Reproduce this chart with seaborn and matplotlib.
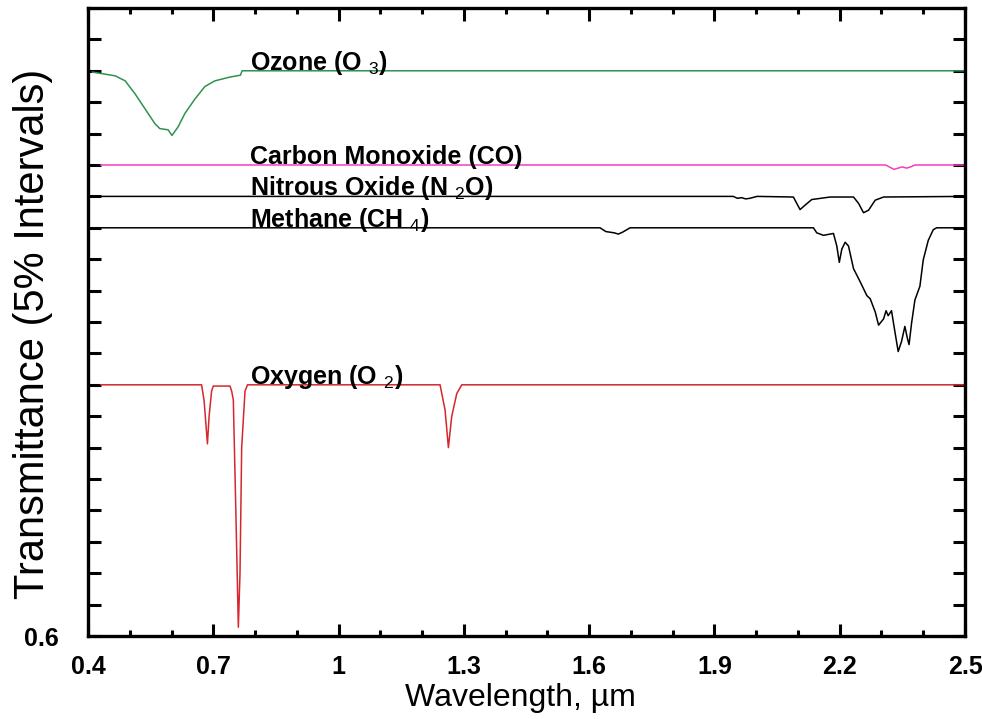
import matplotlib
matplotlib.use("Agg")
import matplotlib.pyplot as plt
import matplotlib.ticker as mticker
import pandas as pd
import seaborn as sns

# wavelength (um) / transmittance, curves offset by 5% steps
ozone_x = [0.41, 0.465, 0.489, 0.513, 0.536, 0.560, 0.572, 0.592, 0.601, 0.616,
           0.632, 0.656, 0.680, 0.704, 0.740, 0.765, 0.769, 2.5]
ozone_y = [1.498, 1.492, 1.484, 1.463, 1.440, 1.416, 1.408, 1.406, 1.397, 1.411,
           1.432, 1.455, 1.475, 1.484, 1.490, 1.493, 1.5, 1.5]

co_x = [0.43, 2.31, 2.33, 2.35, 2.36, 2.37, 2.38, 2.5]
co_y = [1.35, 1.35, 1.343, 1.347, 1.345, 1.347, 1.35, 1.35]

n2o_x = [0.4, 1.945, 1.955, 1.965, 1.975, 1.985, 2.002, 2.089, 2.105, 2.117,
         2.133, 2.177, 2.233, 2.245, 2.257, 2.269, 2.285, 2.305, 2.5]
n2o_y = [1.3, 1.3, 1.297, 1.298, 1.296, 1.297, 1.3, 1.299, 1.279, 1.286,
         1.295, 1.299, 1.299, 1.289, 1.274, 1.278, 1.294, 1.299, 1.3]

ch4_x = [0.4, 1.626, 1.64, 1.66, 1.67, 1.68, 1.698, 2.137, 2.145, 2.161, 2.185,
         2.193, 2.199, 2.205, 2.213, 2.221, 2.233, 2.249, 2.265, 2.273, 2.285,
         2.293, 2.305, 2.311, 2.316, 2.324, 2.332, 2.340, 2.348, 2.356, 2.362,
         2.366, 2.372, 2.380, 2.392, 2.400, 2.412, 2.424, 2.432, 2.5]
ch4_y = [1.25, 1.25, 1.244, 1.242, 1.240, 1.243, 1.25, 1.25, 1.242, 1.238, 1.241,
         1.221, 1.195, 1.216, 1.227, 1.221, 1.185, 1.164, 1.142, 1.137, 1.116,
         1.095, 1.105, 1.118, 1.110, 1.118, 1.085, 1.053, 1.069, 1.093, 1.074,
         1.064, 1.098, 1.135, 1.157, 1.199, 1.230, 1.247, 1.25, 1.25]

o2_x = [0.43, 0.672, 0.678, 0.686, 0.690, 0.696, 0.700, 0.740, 0.744, 0.748,
        0.754, 0.760, 0.764, 0.768, 0.776, 0.782, 1.243, 1.255, 1.263, 1.271,
        1.283, 1.295, 2.5]
o2_y = [1.0, 1.0, 0.975, 0.906, 0.95, 0.99, 0.998, 0.998, 0.99, 0.976,
        0.80, 0.614, 0.70, 0.90, 0.99, 1.0, 1.0, 0.96, 0.90, 0.95,
        0.986, 1.0, 1.0]

x_ticks = [0.4, 0.7, 1.0, 1.3, 1.6, 1.9, 2.2, 2.5]

series = [
    (ozone_x, ozone_y, "#2f9150", r"Ozone (O$\ _{3}$)", 1.5),
    (co_x, co_y, "#f23fbf", "Carbon Monoxide (CO)", 1.35),
    (n2o_x, n2o_y, "black", r"Nitrous Oxide (N$\ _{2}$O)", 1.3),
    (ch4_x, ch4_y, "black", r"Methane (CH$\ _{4}$)", 1.25),
    (o2_x, o2_y, "#d6262e", r"Oxygen (O$\ _{2}$)", 1.0),
]

sns.set_style("ticks")
plt.rcParams["font.family"] = ["Liberation Sans", "DejaVu Sans"]
plt.rcParams["mathtext.fontset"] = "custom"
plt.rcParams["mathtext.rm"] = "Liberation Sans"
plt.rcParams["mathtext.it"] = "Liberation Sans"
plt.rcParams["text.color"] = "black"
plt.rcParams["axes.labelcolor"] = "black"

fig = plt.figure(figsize=(9.82, 7.19), dpi=100)
ax = fig.add_axes([0.0896, 0.1154, 0.8931, 0.8735])

for xs, ys, color, label, base in series:
    df = pd.DataFrame({"wl": xs, "t": ys})
    sns.lineplot(data=df, x="wl", y="t", color=color, linewidth=1.1, ax=ax,
                 estimator=None, sort=False)
    ax.text(0.788, base + 0.0015, label, fontsize=18, fontweight="bold",
            ha="left", va="baseline", color="black")

ax.set_xlim(0.4, 2.5)
ax.set_ylim(0.6, 1.6)
ax.xaxis.set_major_locator(mticker.FixedLocator(x_ticks))
ax.xaxis.set_minor_locator(mticker.MultipleLocator(0.1))
ax.yaxis.set_major_locator(mticker.MultipleLocator(0.05))
ax.xaxis.set_major_formatter(mticker.FuncFormatter(
    lambda v, p: "1" if abs(v - 1) < 1e-6 else f"{v:.1f}"))
ax.yaxis.set_major_formatter(mticker.FuncFormatter(
    lambda v, p: "0.6" if abs(v - 0.6) < 1e-6 else ""))

ax.tick_params(which="both", direction="in", top=True, right=True, width=2.2,
               labelsize=18, colors="black")
ax.tick_params(axis="x", pad=14)
ax.tick_params(axis="y", pad=21)
ax.tick_params(which="major", length=9)
ax.tick_params(which="minor", length=4.5)
for lbl in ax.get_xticklabels() + ax.get_yticklabels():
    lbl.set_fontweight("bold")
for sp in ax.spines.values():
    sp.set_linewidth(2.4)
    sp.set_color("black")

ax.set_xlabel("Wavelength, \u00b5m", fontsize=23)
ax.set_ylabel("Transmittance (5% Intervals)", fontsize=30)
ax.xaxis.set_label_coords(0.493, -0.074)
ax.yaxis.set_label_coords(-0.04, 0.481)

fig.savefig("out.png", dpi=100)
